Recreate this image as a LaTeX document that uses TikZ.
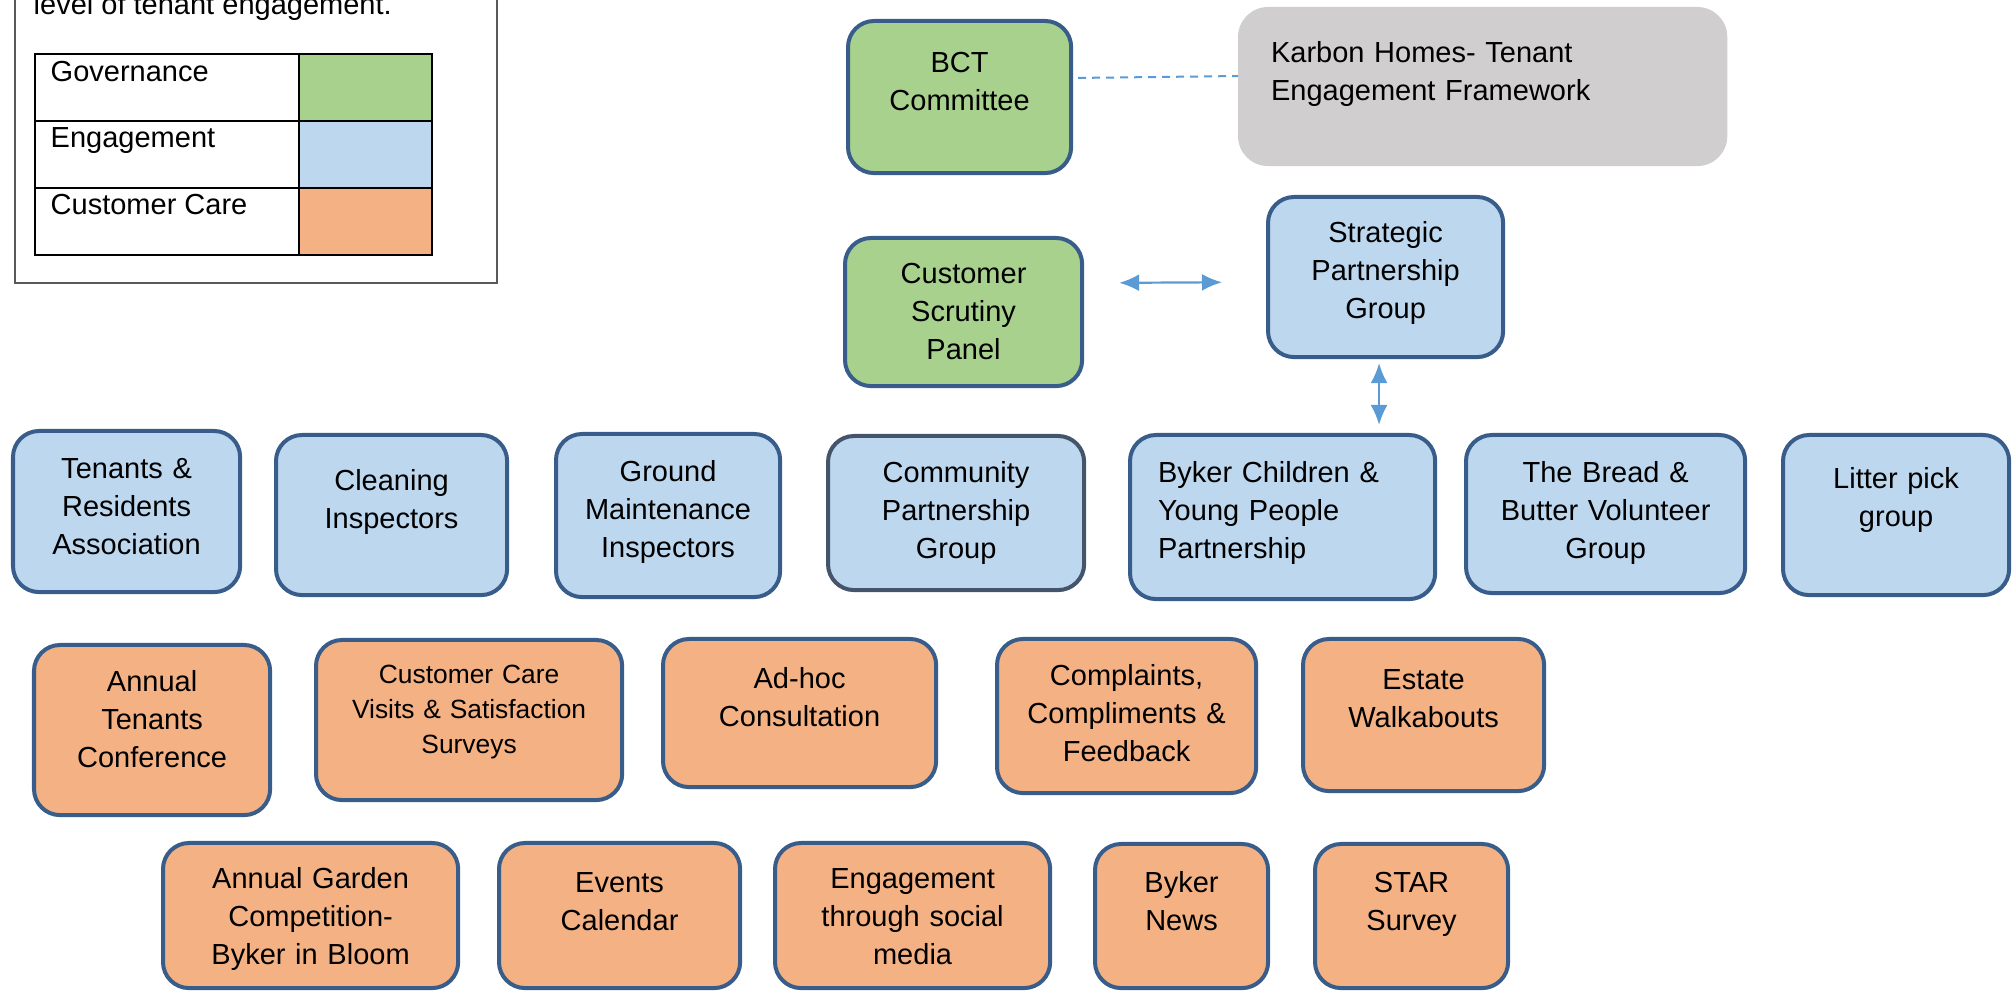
\documentclass[tikz,border=0pt]{standalone}
\usepackage{fontspec}
\setmainfont{Liberation Sans}
\usetikzlibrary{arrows.meta}

\definecolor{govgreen}{HTML}{A9D18E}
\definecolor{engblue}{HTML}{BDD7EE}
\definecolor{careorange}{HTML}{F4B183}
\definecolor{notegray}{HTML}{D0CECE}
\definecolor{edgeblue}{HTML}{385D8A}
\definecolor{edgeslate}{HTML}{44546A}
\definecolor{linkblue}{HTML}{5B9BD5}

\tikzset{
	card/.style={rectangle, rounded corners=0.26cm, draw=edgeblue, line width=0.04cm, anchor=north west, inner sep=0pt, outer sep=0pt, align=center, font=\fontsize{8.25}{10.9}\selectfont},
	gov/.style={card, fill=govgreen},
	eng/.style={card, fill=engblue},
	care/.style={card, fill=careorange},
	dims/.style n args={3}{text width=#1cm, text height=#2cm, text depth=#3cm},
	keytext/.style={anchor=base west, inner sep=0pt, font=\fontsize{8.25}{10.9}\selectfont},
	link/.style={{Latex[length=0.2cm,width=0.17cm]}-{Latex[length=0.2cm,width=0.17cm]}, draw=linkblue, line width=0.022cm},
	dashlink/.style={draw=linkblue, line width=0.02cm, dash pattern=on 0.08cm off 0.06cm}
}

\begin{document}
\begin{tikzpicture}[x=0.01cm, y=-0.01cm]
			%%%%% START %%%%%
			\useasboundingbox (0,0) rectangle (2015,992);
			
			\draw[black!65, line width=0.015cm] (15,-30) rectangle (497,283);
			\node[keytext] (lvl) at (33,15) {level of tenant engagement.};
			
			\fill[govgreen] (299,54) rectangle (432,121);
			\fill[engblue] (299,121) rectangle (432,188);
			\fill[careorange] (299,188) rectangle (432,255);
			\draw[line width=0.02cm] (35,54) rectangle (432,255);
			\draw[line width=0.02cm] (35,121) -- (432,121);
			\draw[line width=0.02cm] (35,188) -- (432,188);
			\draw[line width=0.02cm] (299,54) -- (299,255);
			\node[keytext] (govkey) at (50,82) {Governance};
			\node[keytext] (engkey) at (50,148) {Engagement};
			\node[keytext] (carekey) at (50,215) {Customer Care};
			
			\node[gov, dims={2.23}{0.51}{1.01}] (bct) at (848,21) {BCT\\Committee};
			\node[card, draw=none, fill=notegray, rounded corners=0.3cm, align=left, inner xsep=0.33cm, dims={4.23}{0.55}{1.04}] (karbon) at (1238,7) {Karbon Homes- Tenant\\Engagement Framework};
			\draw[dashlink, shorten <=0.07cm] ([yshift=0.19cm]bct.east) -- ([yshift=0.105cm]karbon.west);
			
			\node[gov, dims={2.37}{0.45}{1.03}] (scrutiny) at (845,238) {Customer\\Scrutiny\\Panel};
			\node[eng, dims={2.35}{0.45}{1.15}] (strategic) at (1268,197) {Strategic\\Partnership\\Group};
			\draw[link, shorten <=0.37cm, shorten >=0.46cm] ([yshift=0.29cm]scrutiny.east) -- ([yshift=-0.05cm]strategic.west);
			
			\node[eng, dims={2.27}{0.47}{1.14}] (residents) at (13,431) {Tenants \&\\Residents\\Association};
			\node[eng, dims={2.31}{0.55}{1.05}] (cleaning) at (276,435) {Cleaning\\Inspectors};
			\node[eng, dims={2.24}{0.47}{1.16}] (ground) at (556,434) {Ground\\Maintenance\\Inspectors};
			\node[eng, draw=edgeslate, dims={2.56}{0.46}{1.08}] (community) at (828,436) {Community\\Partnership\\Group};
			\node[eng, align=left, inner xsep=0.28cm, dims={2.49}{0.47}{1.17}] (bykercyp) at (1130,435) {Byker Children \&\\Young People\\Partnership};
			\node[eng, dims={2.79}{0.47}{1.11}] (bread) at (1466,435) {The Bread \&\\Butter Volunteer\\Group};
			\node[eng, dims={2.26}{0.53}{1.07}] (litter) at (1783,435) {Litter pick\\group};
			\draw[link, shorten <=0.06cm, shorten >=0.1cm] ([xshift=-0.065cm]strategic.south) -- ([xshift=-0.065cm]strategic.south |- bykercyp.north);
			
			\node[care, dims={2.36}{0.46}{1.24}] (conference) at (34,645) {Annual\\Tenants\\Conference};
			\node[care, font=\fontsize{7.5}{10}\selectfont, dims={3.06}{0.43}{1.17}] (visits) at (316,640) {Customer Care\\Visits \& Satisfaction\\Surveys};
			\node[care, dims={2.73}{0.49}{0.99}] (adhoc) at (663,639) {Ad-hoc\\Consultation};
			\node[care, dims={2.59}{0.46}{1.08}] (complaints) at (997,639) {Complaints,\\Compliments \&\\Feedback};
			\node[care, dims={2.41}{0.50}{1.02}] (walkabouts) at (1303,639) {Estate\\Walkabouts};
			
			\node[care, dims={2.95}{0.45}{1.00}] (garden) at (163,843) {Annual Garden\\Competition-\\Byker in Bloom};
			\node[care, dims={2.41}{0.49}{0.96}] (events) at (499,843) {Events\\Calendar};
			\node[care, dims={2.75}{0.45}{1.00}] (social) at (775,843) {Engagement\\through social\\media};
			\node[care, dims={1.73}{0.48}{0.96}] (news) at (1095,844) {Byker\\News};
			\node[care, dims={1.93}{0.48}{0.96}] (star) at (1315,844) {STAR\\Survey};
			
			%%%%% END %%%%%
\end{tikzpicture}
\end{document}
